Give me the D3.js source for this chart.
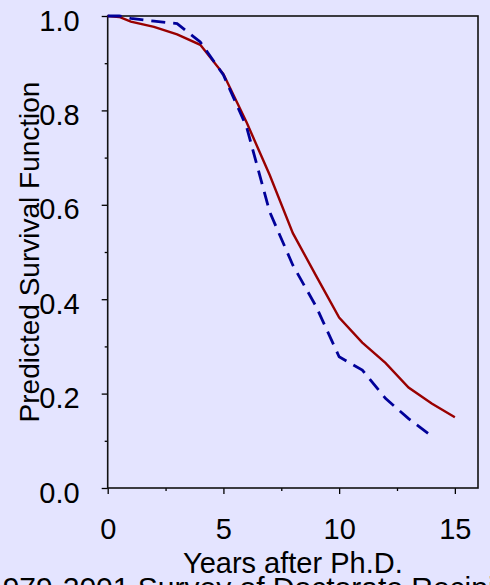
<!DOCTYPE html>
<html>
<head>
<meta charset="utf-8">
<script src="https://cdn.jsdelivr.net/npm/d3@7"></script>
<style>
  html, body { margin: 0; padding: 0; background: #e4e4ff; overflow: hidden; }
  svg { display: block; }
  text { font-family: "Liberation Sans", Arial, sans-serif; fill: #000; }
</style>
</head>
<body>
<svg id="chart"></svg>
<script>
// time points (years after Ph.D.)
const years = [0, 0.5, 1, 2, 3, 4, 5, 6, 7, 8, 9, 10, 11, 12, 13, 14, 15]

// solid dark red curve
const survivalSolid =
    [1.0, 0.998, 0.988, 0.977, 0.961, 0.939, 0.877, 0.775, 0.663,
     0.540, 0.450, 0.361, 0.308, 0.265, 0.213, 0.179, 0.150]

// dashed navy curve (ends at year 14)
const survivalDashed =
    [1.0, 1.0, 0.995, 0.989, 0.984, 0.945, 0.875, 0.765, 0.585,
     0.472, 0.385, 0.278, 0.250, 0.190, 0.147, 0.110]

const xTicks = [0, 5, 10, 15]
const xMinor = [2.5, 7.5, 12.5]
const yTicks = [0, 0.2, 0.4, 0.6, 0.8, 1.0]
const yMinor = [0.1, 0.3, 0.5, 0.7, 0.9]

const width = 490, height = 585
const margin = { top: 16, right: 12, bottom: 97, left: 107.7 }

const svg = d3.select("#chart")
    .attr("width", width)
    .attr("height", height)

const x = d3.scaleLinear().domain([0, 16]).range([margin.left, width - margin.right])
const y = d3.scaleLinear().domain([0, 1]).range([height - margin.bottom, margin.top])

const fontSize = 29

// minor ticks
svg.append("g")
    .attr("transform", "translate(0," + y(0) + ")")
    .call(d3.axisBottom(x).tickValues(xMinor).tickSize(3).tickFormat(""))
    .call(g => g.select(".domain").remove())
svg.append("g")
    .attr("transform", "translate(" + x(0) + ",0)")
    .call(d3.axisLeft(y).tickValues(yMinor).tickSize(3).tickFormat(""))
    .call(g => g.select(".domain").remove())

// major ticks
svg.append("g")
    .attr("transform", "translate(0," + y(0) + ")")
    .call(d3.axisBottom(x).tickValues(xTicks).tickSize(6).tickPadding(24).tickFormat(d3.format("d")))
    .call(g => g.select(".domain").remove())
    .call(g => g.selectAll("text").style("font-size", fontSize + "px").style("font-family", null))

svg.append("g")
    .attr("transform", "translate(" + x(0) + ",0)")
    .call(d3.axisLeft(y).tickValues(yTicks).tickSize(6).tickPadding(22).tickFormat(d3.format(".1f")))
    .call(g => g.select(".domain").remove())
    .call(g => g.selectAll("text")
        .style("font-size", fontSize + "px").style("font-family", null)
        .attr("dy", null).attr("y", 14))

svg.selectAll(".tick line").attr("stroke", "#000").attr("stroke-width", 1.3)

// frame
svg.append("rect")
    .attr("x", x(0))
    .attr("y", y(1))
    .attr("width", x(16) - x(0))
    .attr("height", y(0) - y(1))
    .attr("fill", "none")
    .attr("stroke", "#111")
    .attr("stroke-width", 1.6)

const line = d3.line()
    .x((d) => x(d[0]))
    .y((d) => y(d[1]))

svg.append("path")
    .datum(d3.zip(years, survivalSolid))
    .attr("d", line)
    .attr("fill", "none")
    .attr("stroke", "#990000")
    .attr("stroke-width", 2.4)

svg.append("path")
    .datum(d3.zip(years.slice(0, survivalDashed.length), survivalDashed))
    .attr("d", line)
    .attr("fill", "none")
    .attr("stroke", "#000099")
    .attr("stroke-width", 2.8)
    .attr("stroke-dasharray", "14,8")

// axis titles
svg.append("text")
    .attr("transform", "translate(39," + (y(0) + y(1)) / 2 + ") rotate(-90)")
    .attr("text-anchor", "middle")
    .style("font-size", "28px")
    .text("Predicted Survival Function")

svg.append("text")
    .attr("x", (x(0) + x(16)) / 2)
    .attr("y", 573)
    .attr("text-anchor", "middle")
    .style("font-size", fontSize + "px")
    .text("Years after Ph.D.")

svg.append("text")
    .attr("x", -14)
    .attr("y", 598)
    .style("font-size", "30px")
    .text("1979-2001 Survey of Doctorate Recipients")
</script>
</body>
</html>
